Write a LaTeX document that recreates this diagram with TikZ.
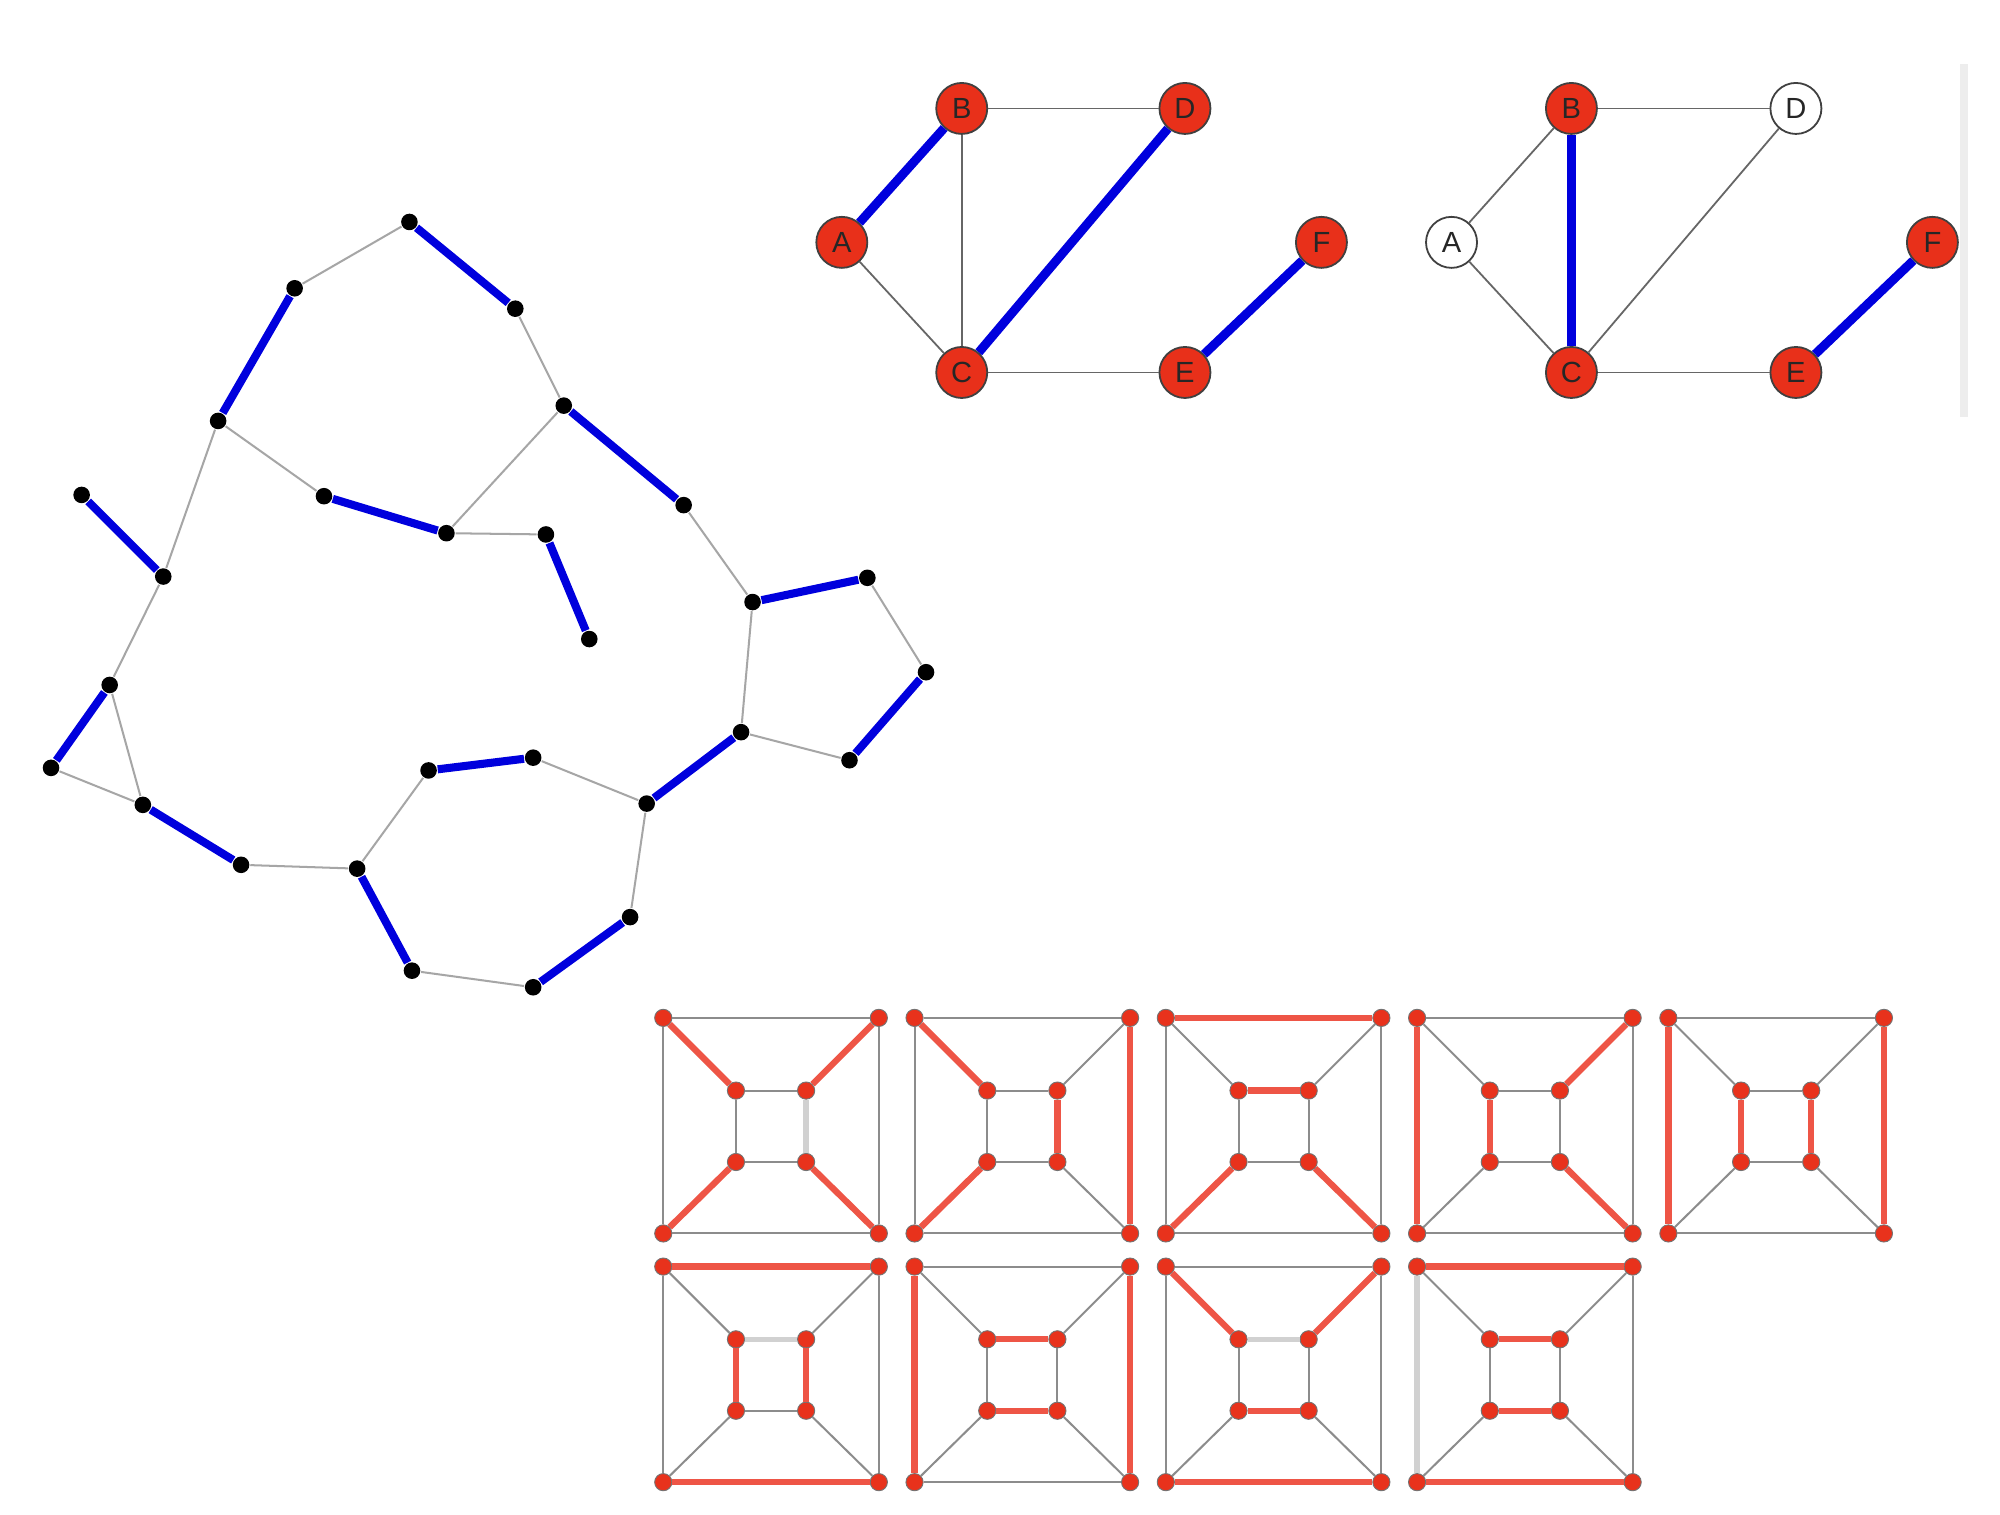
\documentclass[tikz,border=0pt]{standalone}
\usepackage{fontspec}
\newfontfamily\lblfont{Liberation Sans}
\definecolor{vred}{HTML}{E8301A}
\definecolor{cred}{HTML}{E8321C}
\definecolor{redge}{HTML}{EE5546}
\definecolor{bedge}{HTML}{0000DD}
\begin{document}
\begin{tikzpicture}[x=0.1mm,y=-0.1mm,
  bdot/.style={circle,fill=black,inner sep=0pt,minimum size=1.3mm},
  blueedge/.style={draw=bedge,line width=1.8pt},
  grayedge/.style={draw=black!35,line width=0.45pt},
  vtx/.style={circle,draw=black!75,line width=0.4pt,fill=vred,minimum size=4mm,inner sep=0pt,font=\lblfont\fontsize{6.5}{6.5}\selectfont,text=black!85},
  wvtx/.style={vtx,fill=white},
  tedge/.style={draw=black!60,line width=0.4pt},
  tblue/.style={draw=bedge,line width=2pt},
  cdot/.style={circle,fill=cred,draw=black!55,line width=0.2pt,minimum size=1.35mm,inner sep=0pt},
  credge/.style={draw=redge,line width=1.4pt},
  clight/.style={draw=black!18,line width=1.2pt},
  cgray/.style={draw=black!45,line width=0.45pt}]
\useasboundingbox (0,0) rectangle (1568,1187);
\fill[white] (0,0) rectangle (1568,1187);

% ---------- left graph ----------
\foreach \n/\x/\y in {1/321/174,2/231/226,3/404/242,4/171/330,5/442/318,6/254/389,7/350/418,
  8/428/419,9/536/396,10/64/388,11/128/452,12/462/501,13/590/472,14/680/453,15/726/527,
  16/86/537,17/581/574,18/666/596,19/40/602,20/336/604,21/418/594,22/112/631,23/507/630,
  24/189/678,25/280/681,26/494/719,27/323/761,28/418/774}
  \node[bdot] (L\n) at (\x,\y) {};
\foreach \a/\b in {2/1,3/5,4/6,4/11,5/7,7/8,9/13,13/17,14/15,17/18,11/16,16/22,19/22,24/25,25/20,21/23,23/26,27/28}
  \draw[grayedge] (L\a) -- (L\b);
\foreach \a/\b in {1/3,2/4,5/9,6/7,8/12,10/11,13/14,15/18,16/19,17/23,20/21,22/24,25/27,26/28}
  \draw[blueedge] (L\a) -- (L\b);

% ---------- top graph 1 ----------
\node[vtx] (gA) at (660,190) {A};
\node[vtx] (gB) at (754,85) {B};
\node[vtx] (gD) at (929,85) {D};
\node[vtx] (gC) at (754,292) {C};
\node[vtx] (gE) at (929,292) {E};
\node[vtx] (gF) at (1036,190) {F};
\draw[tedge] (gB) -- (gD);
\draw[tedge] (gB) -- (gC);
\draw[tedge] (gA) -- (gC);
\draw[tedge] (gC) -- (gE);
\draw[tblue] (gA) -- (gB);
\draw[tblue] (gC) -- (gD);
\draw[tblue] (gE) -- (gF);

% ---------- top graph 2 ----------
\node[wvtx] (hA) at (1138,190) {A};
\node[vtx] (hB) at (1232,85) {B};
\node[wvtx] (hD) at (1408,85) {D};
\node[vtx] (hC) at (1232,292) {C};
\node[vtx] (hE) at (1408,292) {E};
\node[vtx] (hF) at (1515,190) {F};
\draw[tedge] (hA) -- (hB);
\draw[tedge] (hA) -- (hC);
\draw[tedge] (hB) -- (hD);
\draw[tedge] (hC) -- (hD);
\draw[tedge] (hC) -- (hE);
\draw[tblue] (hB) -- (hC);
\draw[tblue] (hE) -- (hF);
\fill[black!7] (1537,50) rectangle (1543,327);

% ---------- cube panels ----------
\newcommand\cubepanel[5]{%
  \node[cdot] (#1o1) at ({#2},{#3}) {};
  \node[cdot] (#1o2) at ({#2+169},{#3}) {};
  \node[cdot] (#1o3) at ({#2},{#3+169}) {};
  \node[cdot] (#1o4) at ({#2+169},{#3+169}) {};
  \node[cdot] (#1i1) at ({#2+57},{#3+57}) {};
  \node[cdot] (#1i2) at ({#2+112},{#3+57}) {};
  \node[cdot] (#1i3) at ({#2+57},{#3+113}) {};
  \node[cdot] (#1i4) at ({#2+112},{#3+113}) {};
  \foreach \a/\b in {o1/o2,o3/o4,o1/o3,o2/o4,i1/i2,i3/i4,i1/i3,i2/i4,o1/i1,o2/i2,o3/i3,o4/i4}
    \draw[cgray] (#1\a) -- (#1\b);
  \foreach \a/\b in {#5} \draw[clight] (#1\a) -- (#1\b);
  \foreach \a/\b in {#4} \draw[credge] (#1\a) -- (#1\b);
}
\cubepanel{pa}{520}{798}{o1/i1,o2/i2,o3/i3,o4/i4}{i2/i4}
\cubepanel{pb}{717}{798}{o1/i1,o3/i3,i2/i4,o2/o4}{}
\cubepanel{pc}{914}{798}{o1/o2,i1/i2,o3/i3,o4/i4}{}
\cubepanel{pd}{1111}{798}{o1/o3,o2/i2,i1/i3,o4/i4}{}
\cubepanel{pe}{1308}{798}{o1/o3,o2/o4,i1/i3,i2/i4}{}
\cubepanel{pf}{520}{993}{o1/o2,o3/o4,i1/i3,i2/i4}{i1/i2}
\cubepanel{pg}{717}{993}{o1/o3,o2/o4,i1/i2,i3/i4}{}
\cubepanel{ph}{914}{993}{o1/i1,o2/i2,i3/i4,o3/o4}{i1/i2}
\cubepanel{pi}{1111}{993}{o1/o2,i1/i2,i3/i4,o3/o4}{o1/o3}
\end{tikzpicture}
\end{document}
